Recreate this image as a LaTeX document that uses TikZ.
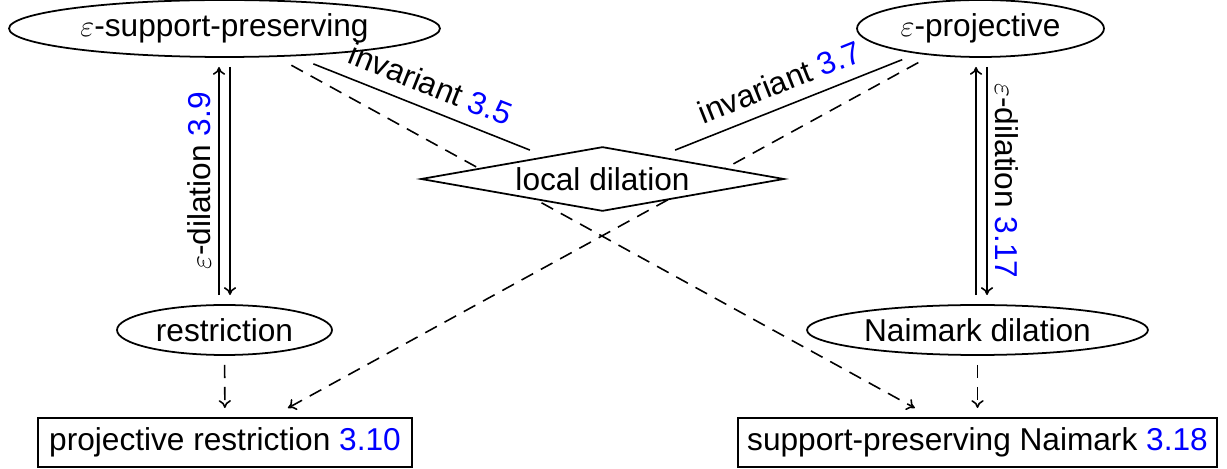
\documentclass[tikz,border=0pt]{standalone}
\usepackage{fontspec}
\setmainfont{Liberation Sans}
\usetikzlibrary{shapes.geometric,backgrounds,arrows.meta}
\definecolor{refblue}{RGB}{0,0,255}
\newcommand{\refnum}[1]{\textcolor{refblue}{#1}}
\begin{document}
\begin{tikzpicture}[x=0.02cm,y=-0.02cm,
  every node/.style={font=\fontsize{18pt}{22pt}\selectfont},
  base/.style={draw, line width=1pt, inner sep=0pt, outer sep=0.2cm},
  ell/.style={base, ellipse},
  boxnode/.style={base, rectangle},
  conn/.style={line width=0.9pt},
  dconn/.style={conn, dash pattern=on 7.5pt off 5pt},
  lbl/.style={sloped, above=3pt, inner sep=4pt},
  >={To[length=4.5pt,width=7pt]}]
\useasboundingbox (0,0) rectangle (1227,469);
\node[ell, minimum width=8.62cm, minimum height=1.14cm] (sp) at (224.5,28.5) {$\varepsilon$-support-preserving};
\node[ell, minimum width=4.94cm, minimum height=1.14cm] (pj) at (980.5,28.5) {$\varepsilon$-projective};
\node[base, diamond, shape aspect=5.15, minimum width=7.42cm, minimum height=1.44cm, fill=white] (ld) at (602.5,179) {local dilation};
\node[ell, minimum width=4.3cm, minimum height=1.0cm] (rs) at (224.5,330) {restriction};
\node[ell, minimum width=6.82cm, minimum height=1.0cm] (nd) at (977.5,330) {Naimark dilation};
\node[boxnode, minimum width=7.48cm, minimum height=0.98cm] (pr) at (225,442.5) {projective restriction \refnum{3.10}};
\node[boxnode, minimum width=9.58cm, minimum height=0.98cm] (spn) at (977.5,442.5) {support-preserving Naimark \refnum{3.18}};
\begin{scope}[on background layer]
\draw[dconn,->] (sp) -- (spn);
\draw[dconn,->] (pj) -- (pr);
\draw[conn] (sp) -- (ld) node[midway, lbl] {invariant \refnum{3.5}};
\draw[conn] (pj) -- (ld) node[midway, lbl] {invariant \refnum{3.7}};
\end{scope}
\draw[conn,->] ([xshift=-0.11cm]rs.north) -- ([xshift=-0.11cm]sp.south) node[midway, sloped, above, inner sep=4pt] {$\varepsilon$-dilation \refnum{3.9}};
\draw[conn,->] ([xshift=0.11cm]sp.south) -- ([xshift=0.11cm]rs.north);
\draw[conn,->] ([xshift=-0.09cm]pj.south |- nd.north) -- ([xshift=-0.09cm]pj.south);
\draw[conn,->] ([xshift=0.13cm]pj.south) -- ([xshift=0.13cm]pj.south |- nd.north) node[midway, sloped, above, inner sep=4pt] {$\varepsilon$-dilation \refnum{3.17}};
\draw[dconn,->] (rs) -- (pr);
\draw[dconn,->] (nd) -- (spn);
\end{tikzpicture}
\end{document}
